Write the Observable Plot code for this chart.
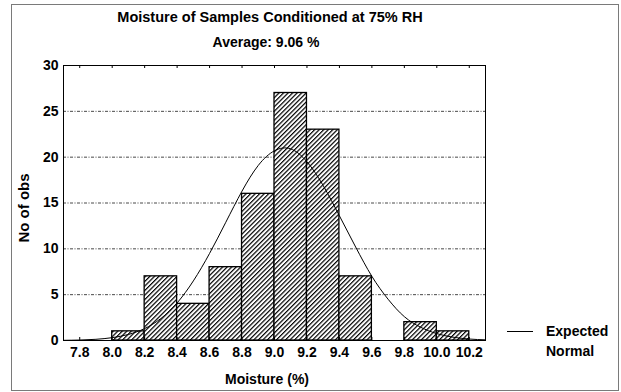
<!DOCTYPE html>
<html><head><meta charset="utf-8">
<script src="https://cdn.jsdelivr.net/npm/d3@7"></script>
<script src="https://cdn.jsdelivr.net/npm/@observablehq/plot@0.6"></script>
<style>
body{margin:0;background:#fff;}
#wrap{position:relative;width:621px;height:392px;font-family:"Liberation Sans",Arial,sans-serif;font-weight:bold;font-size:14px;color:#000;overflow:hidden;}
#wrap svg{position:absolute;left:0;top:0;}
.lbl{position:absolute;white-space:nowrap;line-height:1;}
#border{position:absolute;left:11px;top:4px;width:606px;height:385px;border:1.5px solid #7a7a7a;}
</style></head><body><div id="wrap"><div id="border"></div></div>
<script>
// Histogram bins and counts
const binStarts = [8.0, 8.2, 8.4, 8.6, 8.8, 9.0, 9.2, 9.4, 9.6, 9.8, 10.0];
const binEnds   = [8.2, 8.4, 8.6, 8.8, 9.0, 9.2, 9.4, 9.6, 9.8, 10.0, 10.2];
const counts    = [1, 7, 4, 8, 16, 27, 23, 7, 0, 2, 1];
// Expected normal curve
const curveX = [7.7, 7.8, 7.9, 8.0, 8.1, 8.2, 8.3, 8.4, 8.5, 8.6, 8.7, 8.8, 8.9, 9.0, 9.1, 9.2, 9.3, 9.4, 9.5, 9.6, 9.7, 9.8, 9.9, 10.0, 10.1, 10.2, 10.3];
const curveY = [0.02, 0.05, 0.13, 0.31, 0.66, 1.3, 2.4, 4.1, 6.5, 9.5, 12.9, 16.3, 19.1, 20.7, 20.9, 19.5, 16.9, 13.6, 10.2, 7.0, 4.5, 2.6, 1.45, 0.75, 0.36, 0.16, 0.07];
// Axis ticks
const xTicks = [7.8, 8.0, 8.2, 8.4, 8.6, 8.8, 9.0, 9.2, 9.4, 9.6, 9.8, 10.0, 10.2];
const yTicks = [0, 5, 10, 15, 20, 25, 30];
const xDomain = [7.7, 10.3];
const yDomain = [0, 30];
// Texts
const titleText = "Moisture of Samples Conditioned at 75% RH";
const subtitleText = "Average: 9.06 %";
const xLabel = "Moisture (%)";
const yLabel = "No of obs";
const legendLines = ["Expected", "Normal"];

const bars = binStarts.map((s, i) => ({x1: s, x2: binEnds[i], y: counts[i]})).filter(d => d.y > 0);
const curve = curveX.map((x, i) => ({x, y: curveY[i]}));

const mL = 63, mR = 136, mT = 65, mB = 52, W = 621, H = 392;
const innerH = H - mT - mB;

const chart = Plot.plot({
  width: W, height: H,
  marginLeft: mL, marginRight: mR, marginTop: mT, marginBottom: mB,
  style: {fontFamily: "Liberation Sans, Arial, sans-serif", fontSize: "14px", fontWeight: "bold", color: "#000", background: "transparent", overflow: "visible"},
  x: {domain: xDomain},
  y: {domain: yDomain},
  marks: [
    Plot.gridY(yTicks.filter(v => v > 0), {stroke: "#333", strokeOpacity: 1, strokeWidth: 0.9, strokeDasharray: "3,1.5,1,1.5"}),
    Plot.rectY(bars, {x1: "x1", x2: "x2", y: "y", fill: "url(#hatch)", stroke: "#000", strokeWidth: 1.3}),
    Plot.line(curve, {x: "x", y: "y", stroke: "#000", strokeWidth: 1, curve: "natural"}),
    Plot.frame({stroke: "#000", strokeWidth: 1}),
    Plot.ruleX(xTicks, {insetTop: innerH - 3, stroke: "#000"}),
    Plot.ruleX(xTicks, {insetBottom: innerH - 3, stroke: "#000"}),
    Plot.axisX(xTicks, {tickSize: 0, tickPadding: 7, tickFormat: d3.format(".1f"), label: null}),
    Plot.axisY(yTicks, {tickSize: 0, tickPadding: 5, label: null})
  ]
});

const defs = d3.select(chart).insert("defs", ":first-child");
const pat = defs.append("pattern")
  .attr("id", "hatch").attr("patternUnits", "userSpaceOnUse")
  .attr("width", 3.2).attr("height", 10)
  .attr("patternTransform", "rotate(45)");
pat.append("rect").attr("width", 3.2).attr("height", 10).attr("fill", "#fff");
pat.append("rect").attr("x", 0).attr("width", 1.2).attr("height", 10).attr("fill", "#000");

const wrap = document.getElementById("wrap");
wrap.appendChild(chart);

function addLabel(text, left, top, extra) {
  const d = document.createElement("div");
  d.className = "lbl";
  d.textContent = text;
  d.style.left = left + "px";
  d.style.top = top + "px";
  if (extra) Object.assign(d.style, extra);
  wrap.appendChild(d);
  return d;
}
addLabel(titleText, 270, 10, {transform: "translateX(-50%)", fontSize: "14.5px"});
addLabel(subtitleText, 266, 35, {transform: "translateX(-50%)"});
addLabel(xLabel, 267, 372, {transform: "translateX(-50%)"});
addLabel(yLabel, 23, 208, {transform: "translate(-50%,-50%) rotate(-90deg)", fontSize: "15px"});
addLabel(legendLines[0], 546, 324);
addLabel(legendLines[1], 546, 344);
const ln = document.createElement("div");
Object.assign(ln.style, {position: "absolute", left: "507px", top: "331px", width: "26px", height: "0", borderTop: "1px solid #000"});
wrap.appendChild(ln);
</script>
</body></html>
